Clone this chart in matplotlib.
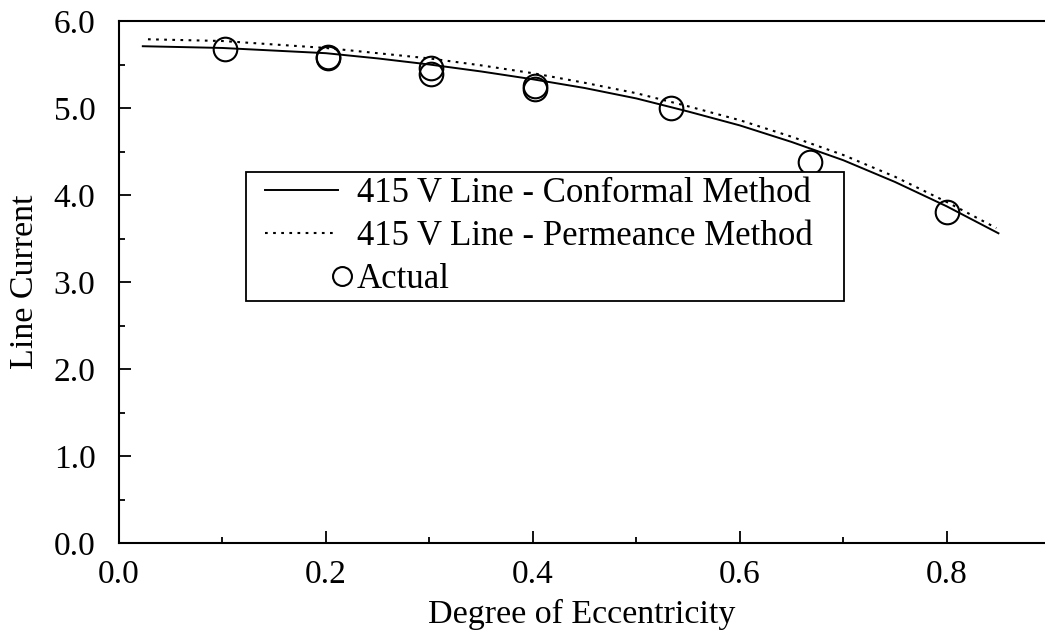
import numpy as np
import matplotlib
matplotlib.use("Agg")
import matplotlib.pyplot as plt
from matplotlib.legend_handler import HandlerLine2D

# =========================
# DATA
# =========================
conf_x = [0.023, 0.1, 0.15, 0.2, 0.25, 0.3, 0.35, 0.4, 0.45, 0.5, 0.55, 0.6,
          0.65, 0.7, 0.75, 0.8, 0.850]
conf_y = [5.71, 5.69, 5.66, 5.63, 5.57, 5.50, 5.42, 5.33, 5.23, 5.11, 4.96, 4.80,
          4.61, 4.40, 4.15, 3.87, 3.56]

perm_x = [0.028, 0.1, 0.15, 0.2, 0.25, 0.3, 0.35, 0.4, 0.45, 0.5, 0.55, 0.6,
          0.65, 0.7, 0.75, 0.8, 0.848]
perm_y = [5.79, 5.77, 5.73, 5.69, 5.63, 5.57, 5.49, 5.40, 5.29, 5.17, 5.02, 4.86,
          4.67, 4.46, 4.21, 3.92, 3.62]

act_x = [0.102, 0.202, 0.202, 0.302, 0.302, 0.402, 0.402, 0.534, 0.668, 0.800]
act_y = [5.68, 5.59, 5.57, 5.46, 5.39, 5.25, 5.22, 5.00, 4.38, 3.80]

labels = ["415 V Line - Conformal Method",
          "415 V Line - Permeance Method",
          "Actual"]

plt.rcParams["font.family"] = ["Liberation Serif", "DejaVu Serif"]


# =========================
# LEGEND HANDLERS
# =========================
class ShortLine(HandlerLine2D):
    # line handle starts a bit in from the frame
    def get_xdata(self, legend, xdescent, ydescent, width, height, fontsize):
        xdata = np.array([-xdescent + 10, -xdescent + width])
        return xdata, xdata


class EndMarker(HandlerLine2D):
    # circle sits at the right end of the handle (single marker is put
    # in the middle of xdata, so centre xdata on the wanted spot)
    def get_xdata(self, legend, xdescent, ydescent, width, height, fontsize):
        pos = -xdescent + width + 3
        xdata = np.array([pos - 1, pos + 1])
        return xdata, xdata


fig = plt.figure(figsize=(10.45, 6.39), dpi=100)
ax = fig.add_axes([119 / 1045, 96 / 639, 1 - 119 / 1045, 522 / 639])

l1, = ax.plot(conf_x, conf_y, color="black", lw=1.4, label=labels[0])
l2, = ax.plot(perm_x, perm_y, color="black", lw=1.5, linestyle=(0, (1.3, 2.6)),
              label=labels[1])
l3, = ax.plot(act_x, act_y, linestyle="none", marker="o", markersize=17,
              markerfacecolor="none", markeredgecolor="black", markeredgewidth=1.5,
              label=labels[2])

ax.set_xlim(0, 0.895)
ax.set_ylim(0, 6.0)

ax.set_xticks([0.0, 0.2, 0.4, 0.6, 0.8])
ax.set_xticks([0.1, 0.3, 0.5, 0.7], minor=True)
ax.set_yticks([0, 1, 2, 3, 4, 5, 6])
ax.set_yticks([0.5, 1.5, 2.5, 3.5, 4.5, 5.5], minor=True)
ax.set_xticklabels([f"{v:.1f}" for v in [0.0, 0.2, 0.4, 0.6, 0.8]])
ax.set_yticklabels([f"{v:.1f}" for v in [0, 1, 2, 3, 4, 5, 6]])

ax.tick_params(axis="both", which="both", direction="in", width=1.3,
               top=False, right=False, labelsize=24)
ax.tick_params(axis="both", which="major", length=8.5)
ax.tick_params(axis="both", which="minor", length=4.5)
ax.tick_params(axis="y", which="major", pad=17)
ax.tick_params(axis="x", which="major", pad=12)

for side in ["left", "bottom", "top"]:
    ax.spines[side].set_linewidth(1.5)
ax.spines["right"].set_visible(False)

ax.set_xlabel("Degree of Eccentricity", fontsize=24.5, labelpad=6)
ax.set_ylabel("Line Current", fontsize=24.5, labelpad=10)

leg = ax.legend(handles=[l1, l2, l3], loc="upper left", mode="expand",
                bbox_to_anchor=(246 / 1045, (639 - 298) / 639, 598 / 1045, 126 / 639),
                bbox_transform=fig.transFigure,
                fontsize=25, frameon=True, fancybox=False, framealpha=1,
                edgecolor="black", borderaxespad=0, borderpad=0.15,
                handlelength=2.5, handletextpad=0.55, labelspacing=0.28,
                markerscale=0.8, numpoints=1,
                handler_map={l1: ShortLine(), l2: ShortLine(), l3: EndMarker()})
leg.get_frame().set_linewidth(1.3)

fig.savefig("out.png", dpi=100)
